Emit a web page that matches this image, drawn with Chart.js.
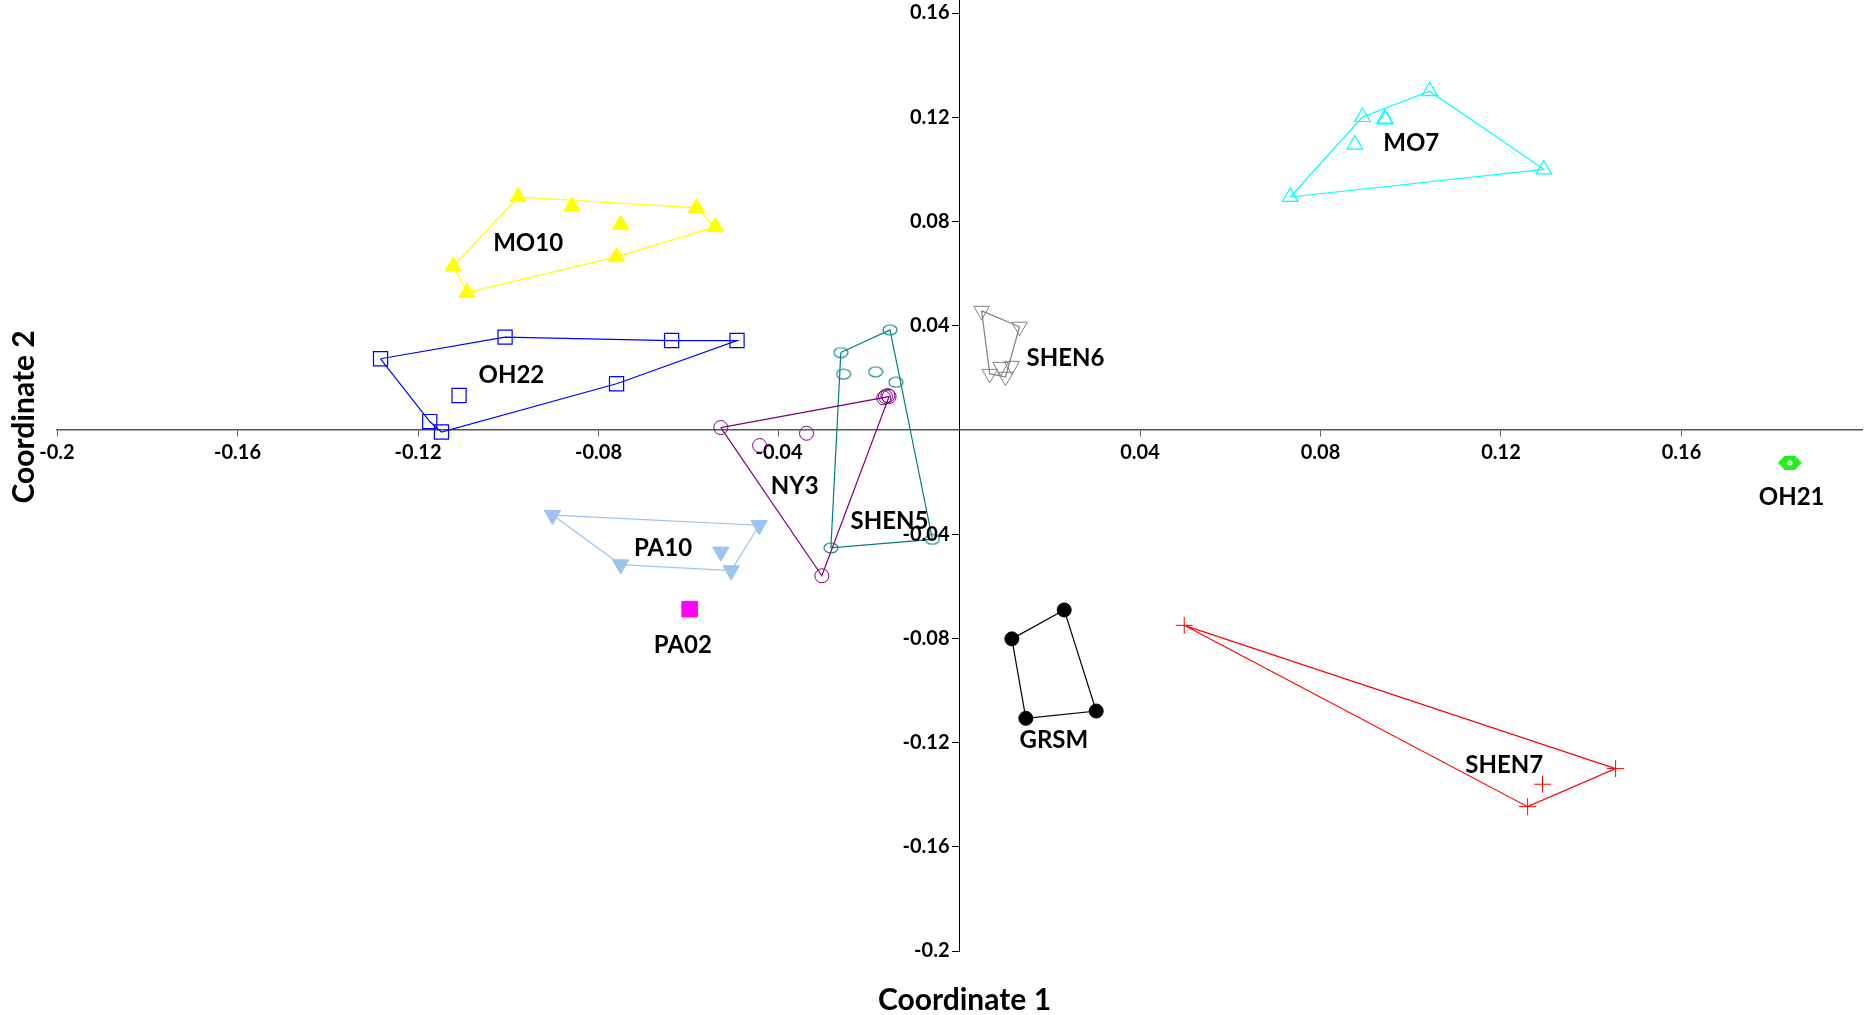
<!DOCTYPE html>
<html>
<head>
<meta charset="utf-8">
<script src="https://cdn.jsdelivr.net/npm/chart.js@4.4.1/dist/chart.umd.min.js"></script>
<style>
  html, body { margin: 0; padding: 0; background: #ffffff; }
  canvas { display: block; }
</style>
</head>
<body>
<canvas id="pcoa" width="1867" height="1015"></canvas>
<script>
// Principal coordinates of the individual samples, one pair of arrays per population.
// Each hull list gives the order of the samples joined by the outline (closed).
const mo10X = [-0.0978, -0.0859, -0.0583, -0.0541, -0.0751, -0.0760, -0.1122, -0.1091];
const mo10Y = [0.0894, 0.0858, 0.0852, 0.0779, 0.0788, 0.0664, 0.0628, 0.0527];
const mo10Hull = [0, 2, 3, 5, 7, 6, 0];

const oh22X = [-0.1283, -0.1007, -0.0638, -0.0493, -0.0760, -0.1109, -0.1174, -0.1148];
const oh22Y = [0.0273, 0.0356, 0.0343, 0.0343, 0.0177, 0.0132, 0.0032, -0.0008];
const oh22Hull = [0, 1, 2, 3, 4, 7, 6, 0];

const ny3X = [-0.0529, -0.0443, -0.0339, -0.0168, -0.0164, -0.0159, -0.0156, -0.0305];
const ny3Y = [0.0009, -0.0060, -0.0013, 0.0123, 0.0128, 0.0132, 0.0128, -0.0560];
const ny3Hull = [0, 6, 7, 0];

const shen5X = [-0.0154, -0.0263, -0.0257, -0.0186, -0.0141, -0.0060, -0.0285];
const shen5Y = [0.0384, 0.0297, 0.0214, 0.0223, 0.0183, -0.0420, -0.0453];
const shen5Hull = [1, 0, 5, 6, 1];

const pa10X = [-0.0902, -0.0444, -0.0529, -0.0751, -0.0506];
const pa10Y = [-0.0327, -0.0366, -0.0468, -0.0517, -0.0540];
const pa10Hull = [0, 1, 4, 3, 0];

const pa02X = [-0.0598];
const pa02Y = [-0.0688];

const shen6X = [0.0049, 0.0133, 0.0067, 0.0091, 0.0102, 0.0116];
const shen6Y = [0.0457, 0.0396, 0.0215, 0.0242, 0.0204, 0.0246];
const shen6Hull = [0, 1, 4, 2, 0];

const mo7X = [0.1042, 0.0893, 0.0942, 0.0944, 0.0876, 0.1295, 0.0733];
const mo7Y = [0.1300, 0.1201, 0.1195, 0.1192, 0.1095, 0.1000, 0.0894];
const mo7Hull = [6, 1, 0, 5, 6];

const oh21X = [0.1840];
const oh21Y = [-0.0126];

const grsmX = [0.0232, 0.0116, 0.0303, 0.0147];
const grsmY = [-0.0691, -0.0802, -0.1079, -0.1107];
const grsmHull = [0, 2, 3, 1, 0];

const shen7X = [0.0498, 0.1454, 0.1292, 0.1259];
const shen7Y = [-0.0750, -0.1300, -0.1360, -0.1446];
const shen7Hull = [0, 1, 3, 0];

// Axis tick values (the origin is left unlabelled)
const xTicks = [-0.2, -0.16, -0.12, -0.08, -0.04, 0.04, 0.08, 0.12, 0.16];
const yTicks = [0.16, 0.12, 0.08, 0.04, -0.04, -0.08, -0.12, -0.16, -0.2];

// Population names and where their names sit, in plot units
const groupNames = ['MO10', 'OH22', 'NY3', 'SHEN5', 'PA10', 'PA02', 'SHEN6', 'MO7', 'OH21', 'GRSM', 'SHEN7'];
const nameAnchorX = [-0.0956, -0.0993, -0.0365, -0.0155, -0.0657, -0.0613, 0.0235, 0.1001, 0.1844, 0.0209, 0.1207];
const nameAnchorY = [0.0718, 0.0211, -0.0215, -0.0352, -0.0454, -0.0828, 0.0275, 0.1101, -0.0258, -0.1190, -0.1288];

const FONT = "Lato, 'Open Sans', 'DejaVu Sans', sans-serif";
const TICK_SIZE = 20;

// ---- marker images for shapes Chart.js does not provide ----
function ellipseMarker(w, h, color) {
  const c = document.createElement('canvas');
  c.width = w + 2; c.height = h + 2;
  const g = c.getContext('2d');
  g.strokeStyle = color; g.lineWidth = 1.1;
  g.beginPath();
  g.ellipse(c.width / 2, c.height / 2, w / 2, h / 2, 0, 0, Math.PI * 2);
  g.stroke();
  return c;
}
function hexMarker(w, h, color) {
  const c = document.createElement('canvas');
  c.width = w; c.height = h;
  const g = c.getContext('2d');
  g.fillStyle = color;
  g.beginPath();
  g.moveTo(0, h / 2); g.lineTo(w * 0.28, 0); g.lineTo(w * 0.72, 0);
  g.lineTo(w, h / 2); g.lineTo(w * 0.72, h); g.lineTo(w * 0.28, h);
  g.closePath(); g.fill();
  g.fillStyle = '#ffffff';
  g.beginPath(); g.arc(w / 2, h / 2, 2.6, 0, Math.PI * 2); g.fill();
  g.fillStyle = color;
  g.beginPath(); g.arc(w / 2, h / 2, 1, 0, Math.PI * 2); g.fill();
  return c;
}

const toPoints = (xs, ys) => xs.map((x, i) => ({ x, y: ys[i] }));
const hullPoints = (xs, ys, hull) => hull.map(i => ({ x: xs[i], y: ys[i] }));

function pointSet(label, xs, ys, style) {
  return Object.assign({
    label,
    data: toPoints(xs, ys),
    showLine: false,
    pointBorderWidth: 1,
    pointHoverRadius: 0
  }, style);
}
function outline(label, xs, ys, hull, color) {
  return {
    label: label + ' outline',
    data: hullPoints(xs, ys, hull),
    showLine: true,
    borderColor: color,
    borderWidth: 1.2,
    pointRadius: 0,
    fill: false,
    tension: 0
  };
}

const datasets = [
  outline('MO10', mo10X, mo10Y, mo10Hull, '#FFFF00'),
  pointSet('MO10', mo10X, mo10Y, { pointStyle: 'triangle', pointRadius: 9.5, backgroundColor: '#FFFF00', borderColor: '#FFFF00' }),

  outline('OH22', oh22X, oh22Y, oh22Hull, '#0000FF'),
  pointSet('OH22', oh22X, oh22Y, { pointStyle: 'rect', pointRadius: 10, backgroundColor: 'rgba(0,0,0,0)', borderColor: '#0000FF', pointBorderWidth: 1.2 }),

  outline('NY3', ny3X, ny3Y, ny3Hull, '#800080'),
  pointSet('NY3', ny3X, ny3Y, { pointStyle: 'circle', pointRadius: 7, backgroundColor: 'rgba(0,0,0,0)', borderColor: '#800080' }),

  outline('SHEN5', shen5X, shen5Y, shen5Hull, '#008080'),
  pointSet('SHEN5', shen5X, shen5Y, { pointStyle: ellipseMarker(14, 10, '#008080'), pointRadius: 7, backgroundColor: 'rgba(0,0,0,0)', borderColor: '#008080' }),

  outline('PA10', pa10X, pa10Y, pa10Hull, '#9DC3EE'),
  pointSet('PA10', pa10X, pa10Y, { pointStyle: 'triangle', rotation: 180, pointRadius: 9.5, backgroundColor: '#9DC3EE', borderColor: '#9DC3EE' }),

  pointSet('PA02', pa02X, pa02Y, { pointStyle: 'rect', pointRadius: 11, backgroundColor: '#FF00FF', borderColor: '#FF00FF' }),

  outline('SHEN6', shen6X, shen6Y, shen6Hull, '#808080'),
  pointSet('SHEN6', shen6X, shen6Y, { pointStyle: 'triangle', rotation: 180, pointRadius: 9, backgroundColor: 'rgba(0,0,0,0)', borderColor: '#808080' }),

  outline('MO7', mo7X, mo7Y, mo7Hull, '#00FFFF'),
  pointSet('MO7', mo7X, mo7Y, { pointStyle: 'triangle', pointRadius: 9, backgroundColor: 'rgba(0,0,0,0)', borderColor: '#00FFFF', pointBorderWidth: 1.2 }),

  pointSet('OH21', oh21X, oh21Y, { pointStyle: hexMarker(24, 14, '#22EE22'), pointRadius: 12, backgroundColor: '#22EE22', borderColor: '#22EE22' }),

  outline('GRSM', grsmX, grsmY, grsmHull, '#000000'),
  pointSet('GRSM', grsmX, grsmY, { pointStyle: 'circle', pointRadius: 7, backgroundColor: '#000000', borderColor: '#000000' }),

  outline('SHEN7', shen7X, shen7Y, shen7Hull, '#FF0000'),
  pointSet('SHEN7', shen7X, shen7Y, { pointStyle: 'cross', pointRadius: 8.5, backgroundColor: '#FF0000', borderColor: '#FF0000' })
];

// Population names, y tick labels (left of the crossing axis) and axis titles
const annotations = {
  id: 'annotations',
  afterDatasetsDraw(chart) {
    const { ctx, scales: { x, y } } = chart;
    ctx.save();
    ctx.fillStyle = '#000000';
    ctx.font = 'bold 24px ' + FONT;
    ctx.textAlign = 'center';
    ctx.textBaseline = 'middle';
    groupNames.forEach((name, i) => {
      ctx.fillText(name, x.getPixelForValue(nameAnchorX[i]), y.getPixelForValue(nameAnchorY[i]));
    });
    ctx.restore();
  },
  afterDraw(chart) {
    const { ctx, chartArea, scales: { x, y } } = chart;
    const axisX = x.getPixelForValue(0);
    ctx.save();
    ctx.fillStyle = '#000000';
    ctx.font = 'bold ' + TICK_SIZE + 'px ' + FONT;
    ctx.textAlign = 'right';
    ctx.textBaseline = 'middle';
    y.ticks.forEach(t => ctx.fillText(t.label, axisX - 10, y.getPixelForValue(t.value)));

    ctx.font = 'bold 30px ' + FONT;
    ctx.textAlign = 'center';
    ctx.fillText('Coordinate 1', axisX + 5, chartArea.bottom + 49);
    ctx.translate(24, y.getPixelForValue(0) - 13);
    ctx.rotate(-Math.PI / 2);
    ctx.fillText('Coordinate 2', 0, 0);
    ctx.restore();
  }
};

const noEdgePadding = s => { s.paddingLeft = 0; s.paddingRight = 0; s.paddingTop = 0; s.paddingBottom = 0; };

new Chart(document.getElementById('pcoa'), {
  type: 'scatter',
  data: { datasets },
  options: {
    responsive: false,
    animation: false,
    devicePixelRatio: 1,
    layout: { autoPadding: false, padding: { left: 57, right: 5, top: 0, bottom: 64 } },
    plugins: { legend: { display: false }, tooltip: { enabled: false } },
    events: [],
    scales: {
      x: {
        type: 'linear',
        position: { y: 0 },
        min: -0.2, max: 0.2,
        afterBuildTicks: s => { s.ticks = xTicks.map(v => ({ value: v })); },
        afterFit: noEdgePadding,
        grid: { drawOnChartArea: false, drawTicks: true, tickLength: 6, color: '#666666', lineWidth: 1 },
        border: { display: true, color: '#555555', width: 1.6 },
        ticks: {
          autoSkip: false, maxRotation: 0, padding: 5, color: '#000000',
          font: { family: FONT, size: TICK_SIZE, weight: 'bold' },
          callback: v => String(v)
        }
      },
      y: {
        type: 'linear',
        position: { x: 0 },
        min: -0.2, max: 0.165,
        afterBuildTicks: s => { s.ticks = yTicks.map(v => ({ value: v })); },
        afterFit: noEdgePadding,
        grid: { drawOnChartArea: false, drawTicks: true, tickLength: 7, color: '#000000', lineWidth: 1 },
        border: { display: true, color: '#000000', width: 1 },
        ticks: {
          display: false,
          autoSkip: false,
          callback: v => String(v)
        }
      }
    }
  },
  plugins: [annotations]
});
</script>
</body>
</html>
